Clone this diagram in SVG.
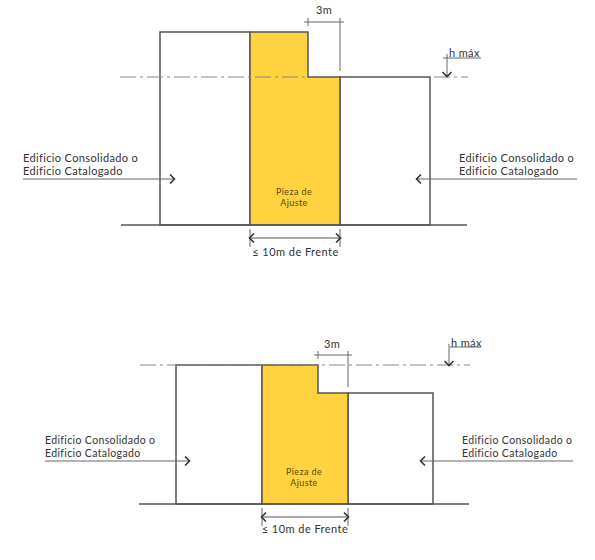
<svg xmlns="http://www.w3.org/2000/svg" width="595" height="560" viewBox="0 0 595 560">
<defs>
<marker id="chev" markerWidth="12" markerHeight="12" refX="7" refY="6" orient="auto-start-reverse" markerUnits="userSpaceOnUse"><path d="M3 1.5 L7.5 6 L3 10.5" fill="none" stroke="#333" stroke-width="1.6"/></marker>
</defs>
<style>
.b{fill:#fff;stroke:#555;stroke-width:1.5}
.y{fill:#ffd23f;stroke:#555;stroke-width:1.5}
.g{stroke:#555;stroke-width:1.5;fill:none}
.l{stroke:#666;stroke-width:1;fill:none}
.d{stroke:#888;stroke-width:1;fill:none}
.a{stroke:#666;stroke-width:1;fill:none;marker-end:url(#chev)}
.ab{stroke:#555;stroke-width:1;fill:none;marker-end:url(#chev);marker-start:url(#chev)}
text{font-family:"Lato","Liberation Sans",sans-serif;fill:#333;font-size:11px;letter-spacing:.36px}
.sm{font-size:10.5px}
.s{font-size:9px;letter-spacing:.4px;fill:#5a4a10;text-anchor:middle}
.c{text-anchor:middle}
.f{letter-spacing:.45px}
</style>
<rect width="595" height="560" fill="#fff"/>
<g id="top-left-building"><rect class="b" x="160" y="32" width="90" height="193"/></g>
<g id="top-right-building"><rect class="b" x="340" y="77" width="90" height="148"/></g>
<g id="top-adjust-piece"><path class="y" d="M250 32H308V77H340V225H250Z"/><text class="s" x="294" y="195">Pieza de</text><text class="s" x="294" y="206">Ajuste</text></g>
<g id="top-label-left"><text x="23" y="162">Edificio Consolidado o</text><text x="23" y="175">Edificio Catalogado</text></g>
<g id="top-label-right"><text x="459" y="162">Edificio Consolidado o</text><text x="459" y="175">Edificio Catalogado</text></g>
<g id="top-3m"><text class="c" x="324" y="14">3m</text></g>
<g id="top-hmax"><text x="449" y="57">h máx</text></g>
<g id="top-front"><text class="c f" x="295.500" y="256">≤ 10m de Frente</text></g>
<g id="bottom-left-building"><rect class="b" x="176" y="365" width="86" height="139"/></g>
<g id="bottom-right-building"><rect class="b" x="348" y="393" width="85" height="111"/></g>
<g id="bottom-adjust-piece"><path class="y" d="M262 365H318V393H348V504H262Z"/><text class="s" x="304" y="475">Pieza de</text><text class="s" x="304" y="486">Ajuste</text></g>
<g id="bottom-label-left"><text class="sm" x="45" y="444">Edificio Consolidado o</text><text class="sm" x="45" y="457">Edificio Catalogado</text></g>
<g id="bottom-label-right"><text class="sm" x="462" y="444">Edificio Consolidado o</text><text class="sm" x="462" y="457">Edificio Catalogado</text></g>
<g id="bottom-3m"><text class="c" x="332" y="348">3m</text></g>
<g id="bottom-hmax"><text x="451" y="347">h máx</text></g>
<g id="bottom-front"><text class="c f" x="305" y="533">≤ 10m de Frente</text></g>
<g id="connectors">
<path class="g" d="M121 225H467M139 504H469"/>
<path class="d" stroke-dasharray="16 4 3 4" d="M120 77H308M434 77H468"/>
<path class="d" stroke-dasharray="16 4 3 4" d="M140 365H470"/>
<path class="a" d="M23 179H174"/>
<path class="a" d="M577 179H417"/>
<path class="a" d="M45 461H189"/>
<path class="a" d="M573 461H421"/>
<path class="l" d="M308 18V26M340 18V71M304 22H344"/>
<path class="l" d="M318 351V359M348 351V387M314 355H352"/>
<path class="l" d="M443 58H481"/><path class="a" d="M447 54V76"/>
<path class="l" d="M450 347H481"/><path class="a" d="M449 344V365"/>
<path class="l" d="M250 229V247M340 229V247M262 508V526M348 508V526"/>
<path class="ab" d="M250 238H340"/>
<path class="ab" d="M262 517H348"/>
</g>
</svg>
